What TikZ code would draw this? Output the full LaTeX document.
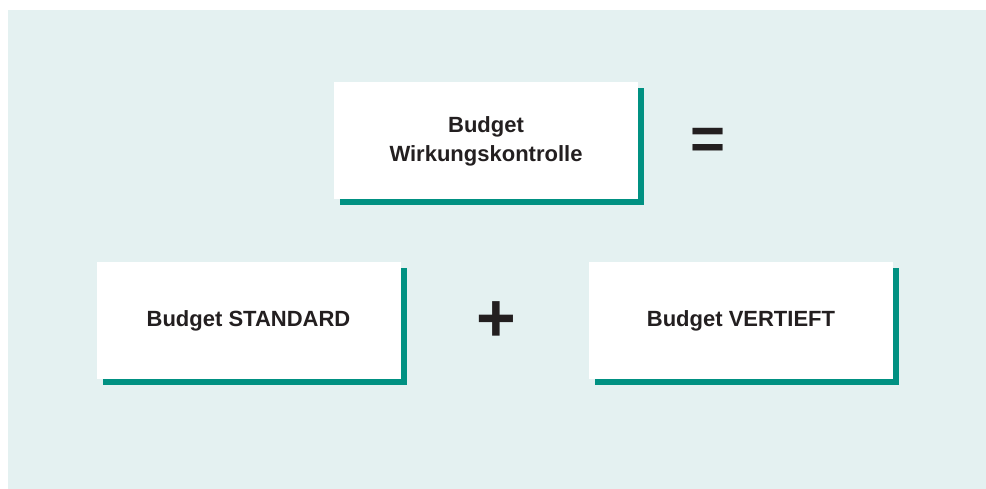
\documentclass[tikz,border=0pt]{standalone}
\usepackage{fontspec}
\setmainfont{Liberation Sans}
\usepackage{xcolor}
\usepackage{tikz}
\usetikzlibrary{shadows, positioning}
\definecolor{bgteal}{RGB}{228,241,241}
\definecolor{boxteal}{RGB}{0,145,130}
\definecolor{textdark}{RGB}{35,31,32}

\begin{document}
\begin{tikzpicture}[x=1pt,y=-1pt,
  budgetbox/.style={fill=white, text=textdark, align=center, inner sep=0pt,
    minimum width=304pt, minimum height=117pt,
    font=\fontsize{22}{29}\selectfont\bfseries,
    drop shadow={shadow xshift=6pt, shadow yshift=-6pt, fill=boxteal, opacity=1}},
  opsign/.style={text=textdark, inner sep=0pt, font=\fontsize{#1}{#1}\selectfont\bfseries}]
% Background
\fill[bgteal] (8,10) rectangle (986,489);
\useasboundingbox (0,0) rectangle (986,489);
% Total budget
\node[budgetbox] (total) at (486,141) {Budget\\Wirkungskontrolle};
\node[opsign=60] (equals) at (708,143.5) {=};
% Parts
\node[budgetbox] (standard) at (248.5,320.5) {Budget STANDARD};
\node[opsign=68] (plus) at (496,322) {+};
\node[budgetbox] (vertieft) at (741,320.5) {Budget VERTIEFT};
\end{tikzpicture}
\end{document}
